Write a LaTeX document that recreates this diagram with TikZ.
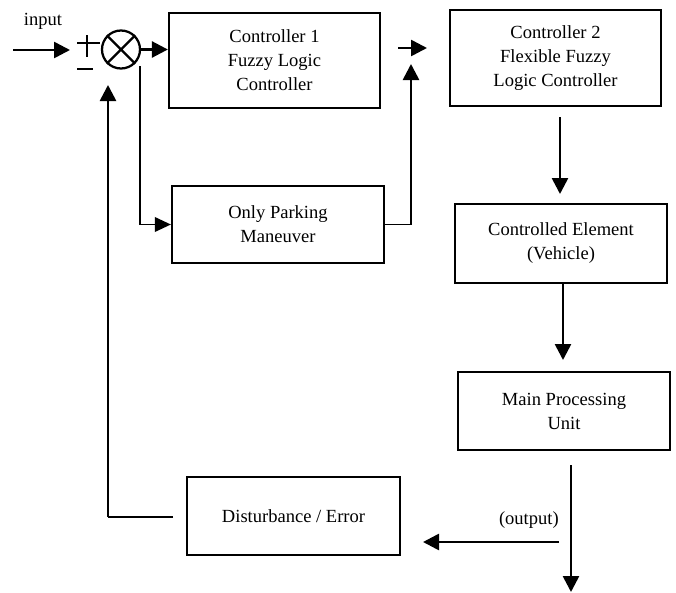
\documentclass[tikz,border=0pt]{standalone}
\usepackage{fontspec}
\setmainfont{Liberation Serif}
\usetikzlibrary{arrows.meta,calc}
\begin{document}
\begin{tikzpicture}[x=0.75pt,y=-0.75pt,
  box/.style={draw,line width=1.7pt,align=center,inner sep=0pt,
    font=\fontsize{13.9}{18}\selectfont},
  lbl/.style={inner sep=0pt,font=\fontsize{13.9}{18}\selectfont},
  arr/.style={line width=2pt,-{Triangle[length=12pt,width=12pt]}},
  thinarr/.style={line width=1.1pt,-{Triangle[length=12pt,width=11pt]}},
  thin/.style={line width=1.1pt},
  sign/.style={line width=0.8pt}]
\useasboundingbox (0,0) rectangle (676,593);

% blocks
\node[box,minimum width={211*0.75pt},minimum height={95*0.75pt}] (c1) at (274.5,60.5)
  {Controller 1\\Fuzzy Logic\\Controller};
\node[box,minimum width={211*0.75pt},minimum height={96*0.75pt}] (c2) at (555.5,58)
  {Controller 2\\Flexible Fuzzy\\Logic Controller};
\node[box,minimum width={212*0.75pt},minimum height={77*0.75pt}] (op) at (278,224.5)
  {Only Parking\\Maneuver};
\node[box,minimum width={212*0.75pt},minimum height={79*0.75pt}] (ce) at (561,243.5)
  {Controlled Element\\(Vehicle)};
\node[box,minimum width={212*0.75pt},minimum height={78*0.75pt}] (mp) at (564,411)
  {Main Processing\\Unit};
\node[box,minimum width={213*0.75pt},minimum height={78*0.75pt}] (dist) at (293.5,516)
  {Disturbance / Error};

% summing junction
\node[draw,circle,line width=1.7pt,minimum size={38*0.75pt},inner sep=0pt] (sum) at (121,49.5) {};
\draw[line width=1.7pt] (sum.45) -- (sum.225) (sum.135) -- (sum.315);

% signs
\coordinate (pl) at (77,43);
\coordinate (pr) at (100,43);
\coordinate (pt) at (87,35);
\coordinate (pb) at (87,57);
\coordinate (ml) at (77,69);
\coordinate (mr) at (93,69);
\draw[sign] (pl) -- (pr) (pt) -- (pb) (ml) -- (mr);

% labels
\node[lbl] (inlbl) at (43,21) {input};
\node[lbl,anchor=east] (outlbl) at (559,520) {(output)};

% coordinates
\coordinate (in0) at (13,50);
\coordinate (in1) at (70,50);
\coordinate (a1) at (398,48);
\coordinate (a2) at (427,48);
\coordinate (b0) at (140,66);
\coordinate (u1) at (411,64);
\coordinate (uc) at (411,224.5);
\coordinate (d0) at (560,117);
\coordinate (d1) at (560,194);
\coordinate (e0) at (563,283);
\coordinate (e1) at (563,360);
\coordinate (o0) at (571,465);
\coordinate (o1) at (571,592);
\coordinate (h0) at (559,542);
\coordinate (h1) at (423,542);
\coordinate (f0) at (173,517);
\coordinate (f1) at (108,517);
\coordinate (f2) at (108,85);

% connectors
\draw[arr] (in0) -- (in1);
\draw[arr] (sum.east) -- (sum.east -| c1.west);
\draw[arr] (a1) -- (a2);
\draw[thinarr] (b0) |- (op.west);
\draw[thin] (op.east) -- (uc);
\draw[arr] (uc) -- (u1);
\draw[arr] (d0) -- (d1);
\draw[arr] (e0) -- (e1);
\draw[arr] (o0) -- (o1);
\draw[arr] (h0) -- (h1);
\draw[thin] (f0) -- (f1);
\draw[arr] (f1) -- (f2);
\end{tikzpicture}
\end{document}
